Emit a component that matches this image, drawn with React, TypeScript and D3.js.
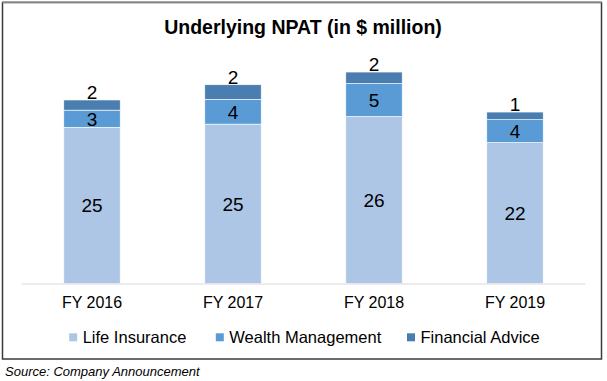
import React from "react";
import * as d3 from "d3";

const categories = ["FY 2016", "FY 2017", "FY 2018", "FY 2019"];
const lifeInsurance = [24.6, 25.1, 26.3, 22.2];
const wealthManagement = [2.7, 3.9, 5.2, 3.6];
const financialAdvice = [1.6, 2.3, 1.8, 1.2];
const seriesNames = ["Life Insurance", "Wealth Management", "Financial Advice"];
const seriesColors = ["#adc6e6", "#5b9bd5", "#4a7eb0"];
const title = "Underlying NPAT (in $ million)";
const source = "Source: Company Announcement";

const W = 607;
const H = 381;
const FONT = "'Liberation Sans', Arial, Helvetica, sans-serif";

export default function App() {
  const data = categories.map((c, i) => ({
    cat: c,
    li: lifeInsurance[i],
    wm: wealthManagement[i],
    fa: financialAdvice[i],
  }));
  const keys = ["li", "wm", "fa"];
  const stack = d3.stack<any>().keys(keys)(data);

  const x = d3
    .scaleBand<string>()
    .domain(categories)
    .range([21.5, 585.5])
    .paddingInner(0.6)
    .paddingOuter(0.3);
  const baseY = 283.5;
  const y = d3.scaleLinear().domain([0, 35]).range([baseY, baseY - 35 * 6.35]);
  const fmt = d3.format(".0f");

  const legendTextX = [82.7, 229.3, 420.5];

  return (
    <div style={{ position: "absolute", left: 0, top: 0 }}>
      <svg width={W} height={H} style={{ display: "block", fontFamily: FONT }}>
        <rect x={0} y={0} width={W} height={H} fill="#fff" />
        <rect x={2.5} y={2.5} width={599} height={356.5} fill="#fff" stroke="#3a3a3a" strokeWidth={1.5} />
        <line x1={2} x2={602} y1={2} y2={2} stroke="#9a9a9a" strokeWidth={1.5} />
        <text x={303} y={34} textAnchor="middle" fontSize={19.5} fontWeight="bold" fill="#000">
          {title}
        </text>
        {stack.map((s, si) =>
          s.map((d, i) => (
            <rect
              key={`${si}-${i}`}
              x={x(categories[i])}
              width={x.bandwidth()}
              y={y(d[1])}
              height={y(d[0]) - y(d[1])}
              fill={seriesColors[si]}
              stroke="#ffffff"
              strokeWidth={0.6}
            />
          ))
        )}
        <line x1={21.5} x2={585.5} y1={baseY + 0.5} y2={baseY + 0.5} stroke="#d9d9d9" strokeWidth={1.2} />
        {stack.map((s, si) =>
          s.map((d, i) => {
            const cx = (x(categories[i]) as number) + x.bandwidth() / 2;
            const val = d[1] - d[0];
            const cy = si === 2 ? y(d[1]) - 7.5 : (y(d[0]) + y(d[1])) / 2;
            return (
              <text
                key={`l-${si}-${i}`}
                x={cx}
                y={cy}
                dy="0.36em"
                textAnchor="middle"
                fontSize={19}
                fill="#000"
              >
                {fmt(val)}
              </text>
            );
          })
        )}
        {categories.map((c) => (
          <text
            key={c}
            x={(x(c) as number) + x.bandwidth() / 2}
            y={302}
            dy="0.36em"
            textAnchor="middle"
            fontSize={16}
            fill="#000"
          >
            {c}
          </text>
        ))}
        {seriesNames.map((n, i) => (
          <g key={n}>
            <rect x={legendTextX[i] - 13.5} y={333.3} width={8} height={8} fill={seriesColors[i]} />
            <text x={legendTextX[i]} y={337.5} dy="0.36em" fontSize={16.5} fill="#000">
              {n}
            </text>
          </g>
        ))}
        <text x={5} y={371.5} dy="0.36em" fontSize={13} fontStyle="italic" fill="#000">
          {source}
        </text>
      </svg>
    </div>
  );
}
